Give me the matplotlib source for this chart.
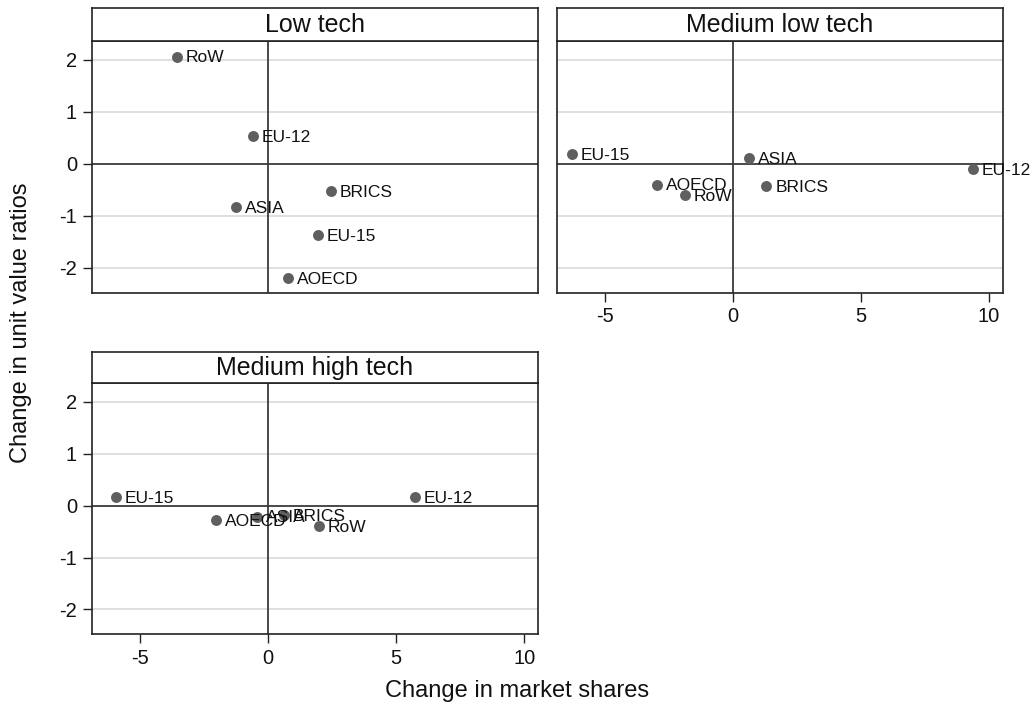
import matplotlib
matplotlib.use("Agg")
import matplotlib.pyplot as plt

plt.rcParams["font.family"] = ["Liberation Sans", "DejaVu Sans"]

# region order used in every panel
regions = ["RoW", "EU-12", "BRICS", "ASIA", "EU-15", "AOECD"]

low_x = [-3.57, -0.60, 2.45, -1.26, 1.94, 0.77]
low_y = [2.06, 0.53, -0.52, -0.83, -1.38, -2.20]

medlow_x = [-1.90, 9.36, 1.29, 0.61, -6.32, -2.97]
medlow_y = [-0.61, -0.11, -0.43, 0.11, 0.19, -0.40]

medhigh_x = [1.98, 5.73, 0.61, -0.45, -5.95, -2.04]
medhigh_y = [-0.39, 0.16, -0.18, -0.21, 0.17, -0.27]

panel_titles = ["Low tech", "Medium low tech", "Medium high tech"]
x_ticks = [-5, 0, 5, 10]
y_ticks = [-2, -1, 0, 1, 2]

W, H = 1036, 713
XLIM = (-6.9, 10.55)
YLIM = (-2.48, 2.36)
MARK = "#5f5f5f"


def px(l, t, r, b):
    return [l / W, 1 - b / H, (r - l) / W, (b - t) / H]


fig = plt.figure(figsize=(W / 100, H / 100), dpi=100)
fig.patch.set_facecolor("white")

# (plot box in pixels, strip top, show x ticks, show y ticks)
layout = [
    ((91.7, 41, 538.3, 292.7), 8, False, True),
    ((556.7, 41, 1003, 292.7), 8, True, False),
    ((91.7, 383.3, 538.3, 634.3), 351.5, True, True),
]
data = [(low_x, low_y), (medlow_x, medlow_y), (medhigh_x, medhigh_y)]

for (box, strip_top, showx, showy), (xs, ys), title in zip(layout, data, panel_titles):
    l, t, r, b = box
    ax = fig.add_axes(px(l, t, r, b))
    ax.set_xlim(*XLIM)
    ax.set_ylim(*YLIM)
    for yt in y_ticks:
        if yt != 0:
            ax.axhline(yt, color="#dcdcdc", lw=1.3, zorder=0)
    ax.axhline(0, color="#3a3a3a", lw=1.3, zorder=1)
    ax.axvline(0, color="#3a3a3a", lw=1.3, zorder=1)
    ax.scatter(xs, ys, s=62, color=MARK, zorder=3, linewidths=0)
    for name, x, y in zip(regions, xs, ys):
        ax.annotate(name, (x, y), xytext=(6.5, -1), textcoords="offset points",
                    ha="left", va="center", fontsize=12.5, color="#111111", zorder=4)
    for sp in ax.spines.values():
        sp.set_color("#222222")
        sp.set_linewidth(1.2)
    if showx:
        ax.set_xticks(x_ticks)
        ax.set_xticklabels([str(v) for v in x_ticks])
    else:
        ax.set_xticks([])
    if showy:
        ax.set_yticks(y_ticks)
        ax.set_yticklabels([str(v) for v in y_ticks])
    else:
        ax.set_yticks([])
    ax.tick_params(labelsize=14.5, length=6.5, width=1, color="#222222",
                   labelcolor="#111111", pad=4)

    # title strip
    sax = fig.add_axes(px(l, strip_top, r, t))
    sax.set_xticks([])
    sax.set_yticks([])
    for sp in sax.spines.values():
        sp.set_color("#222222")
        sp.set_linewidth(1.2)
    sax.text(0.5, 0.47, title, ha="center", va="center", fontsize=18,
             color="#111111", transform=sax.transAxes)

fig.text(21 / W, 1 - 323 / H, "Change in unit value ratios", rotation=90,
         ha="center", va="center", fontsize=17, color="#111111")
fig.text(517 / W, 1 - 691 / H, "Change in market shares",
         ha="center", va="center", fontsize=17, color="#111111")

fig.savefig("out.png", dpi=100, facecolor="white")
